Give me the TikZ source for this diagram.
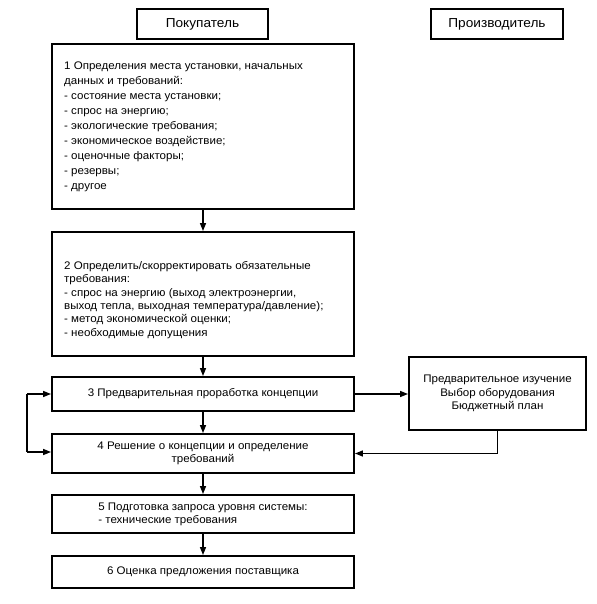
\documentclass[tikz,border=0pt]{standalone}
\usepackage{fontspec}
\setmainfont{Liberation Sans}[FakeStretch=1.05]
\usetikzlibrary{arrows.meta}
\begin{document}
\begin{tikzpicture}[x=1pt,y=-1pt,
  box/.style={draw, line width=1.9pt, inner sep=0pt, minimum width=302pt, font=\fontsize{11}{13.5}\selectfont, align=center},
  hdr/.style={draw, line width=1.9pt, inner sep=0pt, minimum height=30pt, font=\fontsize{13}{16}\selectfont},
  txt/.style={inner sep=0pt, align=left, anchor=north west},
  conn/.style={line width=1.4pt, -{Triangle[length=8pt,width=6pt]}},
  wire/.style={line width=1.4pt}
]
\useasboundingbox (0,0) rectangle (596,604);

\node[hdr, minimum width=131pt] (h1) at (202.5,24) {Покупатель};
\node[hdr, minimum width=132pt] (h2) at (497,24) {Производитель};

\node[box, minimum height=165pt] (b1) at (203,126.5) {};
\node[txt, font=\fontsize{11}{14.9}\selectfont] (t1) at (64,62) {1 Определения места установки, начальных\\
данных и требований:\\
- состояние места установки;\\
- спрос на энергию;\\
- экологические требования;\\
- экономическое воздействие;\\
- оценочные факторы;\\
- резервы;\\
- другое};

\node[box, minimum height=124pt] (b2) at (203,294) {};
\node[txt, font=\fontsize{11}{13.4}\selectfont] (t2) at (64,261) {2 Определить/скорректировать обязательные\\
требования:\\
- спрос на энергию (выход электроэнергии,\\
выход тепла, выходная температура/давление);\\
- метод экономической оценки;\\
- необходимые допущения};

\node[box, minimum height=34pt] (b3) at (203,394) {3 Предварительная проработка концепции};
\node[box, minimum height=39pt, font=\fontsize{11}{13}\selectfont] (b4) at (203,453.5) {4 Решение о концепции и определение\\требований};
\node[box, minimum height=38pt, align=left, font=\fontsize{11}{13}\selectfont] (b5) at (203,514) {5 Подготовка запроса уровня системы:\\- технические требования};
\node[box, minimum height=32pt] (b6) at (203,572) {6 Оценка предложения поставщика};

\node[box, minimum width=177pt, minimum height=73pt, font=\fontsize{11}{13.5}\selectfont] (s) at (497.5,393.5) {Предварительное изучение\\Выбор оборудования\\Бюджетный план};

\draw[conn] (b1.south) -- (b2.north);
\draw[conn] (b2.south) -- (b3.north);
\draw[conn] (b3.south) -- (b4.north);
\draw[conn] (b4.south) -- (b5.north);
\draw[conn] (b5.south) -- (b6.north);

\draw[conn] (b3.east) -- (s.west |- b3.east);
\draw[conn] (s.south) |- (b4.east);

\coordinate (la) at (27,394);
\coordinate (lb) at (27,452);
\draw[wire] (la) -- (lb);
\draw[conn] (la) -- (b3.west);
\draw[conn] (lb) -- (b4.west |- lb);
\end{tikzpicture}
\end{document}
